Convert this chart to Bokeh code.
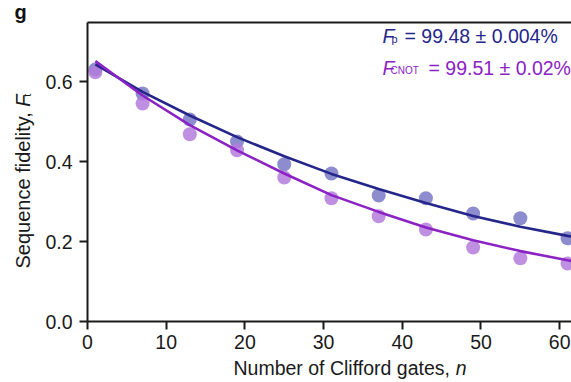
import math
from bokeh.plotting import figure
from bokeh.models import Label, LinearAxis, FixedTicker, PrintfTickFormatter, Range1d
from bokeh.embed import file_html
from bokeh.resources import INLINE

# ---- data ----
n_gates = [1, 7, 13, 19, 25, 31, 37, 43, 49, 55, 61]
fp_points = [0.630, 0.570, 0.505, 0.450, 0.393, 0.370, 0.315, 0.308, 0.270, 0.258, 0.208]
fcnot_points = [0.623, 0.545, 0.468, 0.428, 0.360, 0.308, 0.263, 0.230, 0.185, 0.158, 0.145]

fit_n = [1, 7, 13, 19, 25, 31, 37, 43, 49, 55, 61, 62]
fp_fit = [0.643, 0.574, 0.515, 0.461, 0.413, 0.369, 0.331, 0.296, 0.264, 0.237, 0.214, 0.211]
fcnot_fit = [0.651, 0.565, 0.491, 0.428, 0.370, 0.316, 0.274, 0.235, 0.203, 0.176, 0.153, 0.150]

x_ticks = [0, 10, 20, 30, 40, 50, 60]
y_ticks = [0.0, 0.2, 0.4, 0.6]

fp_text = "= 99.48 \u00b1 0.004%"
fcnot_text = "= 99.51 \u00b1 0.02%"

# ---- styling ----
NAVY = "#25268a"
PURPLE = "#8a22c4"
NAVY_DOT = "#7878c6"
PURPLE_DOT = "#b47ddc"
FONT = "Liberation Sans"
FS = 19.5
INK = "#1a1a1a"

W, H = 571, 382
# plot-area placement in page pixels
AX_L, AX_R, AX_T, AX_B = 87, 571, 22, 321
X_END = 61.5           # data value at the right edge of the plot area
Y_TOP = 0.7475         # data value at the top frame line
SX = (AX_R - AX_L) / X_END
SY = (AX_B - AX_T) / Y_TOP
FIX_H = 9              # baseline correction (px) for horizontal labels
FIX_V = 6              # baseline correction (px) for rotated labels

def dx(px):
    return (px - AX_L) / SX

def dy(py):
    return (AX_B - py) / SY

p = figure(width=W, height=H, output_backend="svg", toolbar_location=None,
           x_range=Range1d(dx(0), dx(W)), y_range=Range1d(dy(H), dy(0)),
           min_border=0, x_axis_type=None, y_axis_type=None)
p.grid.visible = False
p.outline_line_color = None
p.background_fill_color = "white"
p.border_fill_color = "white"

def style_axis(ax):
    ax.axis_line_color = INK
    ax.axis_line_width = 2
    ax.major_tick_line_color = INK
    ax.major_tick_line_width = 2
    ax.major_tick_out = 8
    ax.major_tick_in = 0
    ax.minor_tick_line_color = None
    ax.major_label_text_font = FONT
    ax.major_label_text_font_size = f"{FS}px"
    ax.major_label_text_color = INK

xa = LinearAxis(ticker=FixedTicker(ticks=x_ticks), fixed_location=0, bounds=(0, X_END))
style_axis(xa)
xa.major_label_standoff = 5
p.add_layout(xa, "below")

ya = LinearAxis(ticker=FixedTicker(ticks=y_ticks), formatter=PrintfTickFormatter(format="%.1f"),
                fixed_location=0, bounds=(0, Y_TOP))
style_axis(ya)
ya.major_label_standoff = 7
p.add_layout(ya, "left")

top = LinearAxis(ticker=FixedTicker(ticks=[]), fixed_location=Y_TOP, bounds=(0, X_END))
top.axis_line_color = INK
top.axis_line_width = 2
top.major_tick_line_color = None
top.minor_tick_line_color = None
top.major_label_text_font_size = "0px"
p.add_layout(top, "above")

# points
p.scatter(n_gates, fp_points, size=14, fill_color=NAVY_DOT, line_color=None, fill_alpha=0.85)
p.scatter(n_gates, fcnot_points, size=14, fill_color=PURPLE_DOT, line_color=None, fill_alpha=0.85)
# fits
p.line(fit_n, fp_fit, line_color=NAVY, line_width=2.6)
p.line(fit_n, fcnot_fit, line_color=PURPLE, line_width=2.6)

def lab(px, py, text, size=FS, color=INK, style="normal", angle=0.0):
    if angle:
        px -= FIX_V
    else:
        py -= FIX_H
    p.add_layout(Label(x=dx(px), y=dy(py), text=text, text_font=FONT, text_font_size=f"{size}px",
                       text_color=color, text_font_style=style, angle=angle,
                       text_align="left", text_baseline="alphabetic"))

# panel letter
lab(14, 20, "g", size=20, style="bold", color="#111111")

# x axis title
lab(233, 376, "Number of Clifford gates,")
lab(233 + 11.393 * FS, 376, "n", style="italic")

# y axis title (rotated)
YFS = 20
lab(28, 268, "Sequence fidelity,", size=YFS, angle=math.pi / 2)
yF = 268 - 8.091 * YFS
lab(28, yF, "F", size=YFS, style="italic", angle=math.pi / 2)
lab(32, yF - 10, "t", size=11, angle=math.pi / 2)

# fidelity annotations
lab(382, 44, "F", color=NAVY, style="italic")
lab(391, 47, "p", size=11, color=NAVY)
lab(404, 44, fp_text, color=NAVY)

lab(382, 76, "F", color=PURPLE, style="italic")
lab(390, 79, "CNOT", size=10, color=PURPLE)
lab(428, 76, fcnot_text, color=PURPLE)

open("out.html", "w").write(file_html(p, INLINE))
